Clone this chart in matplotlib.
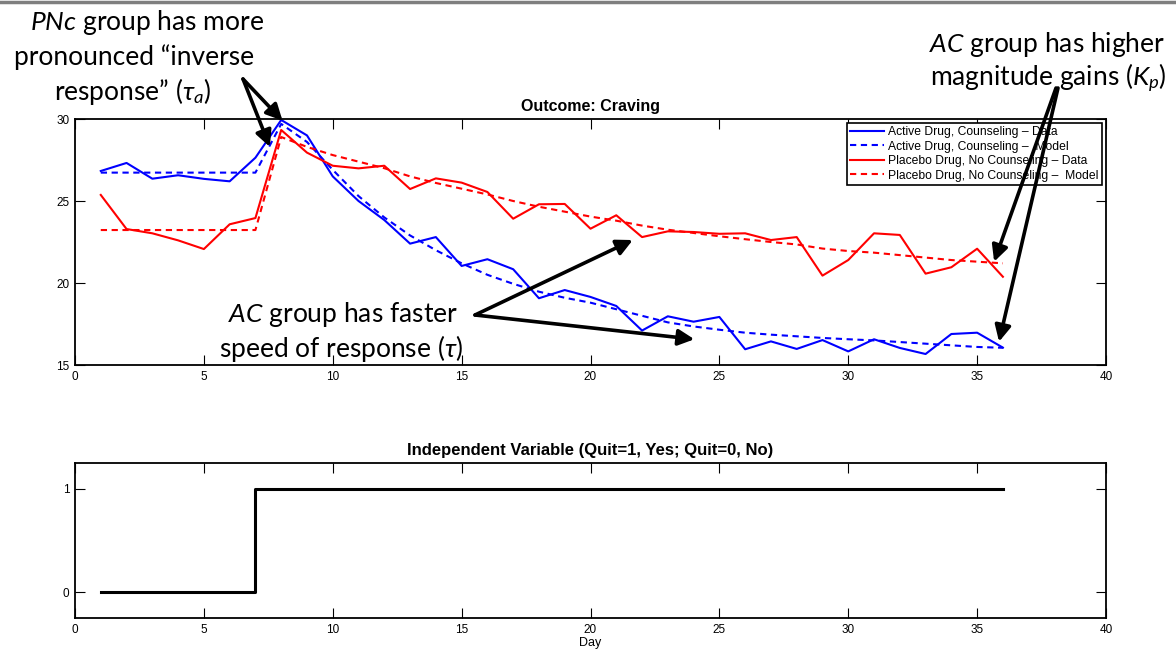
import matplotlib.pyplot as plt
from matplotlib.lines import Line2D

plt.rcParams['mathtext.fontset'] = 'custom'
plt.rcParams['mathtext.rm'] = 'Lato'
plt.rcParams['mathtext.it'] = 'Lato:italic'
plt.rcParams['mathtext.fallback'] = 'stix'

W, H = 1176, 650

days = list(range(1, 37))

ac_data = [26.83, 27.32, 26.36, 26.57, 26.35, 26.2, 27.64, 29.94, 29.0, 26.5,
           25.0, 23.84, 22.4, 22.8, 21.04, 21.45, 20.84, 19.07, 19.57, 19.15,
           18.6, 17.1, 17.97, 17.64, 17.93, 15.96, 16.44, 15.98, 16.52, 15.83,
           16.57, 16.04, 15.67, 16.89, 16.97, 16.06]
ac_model = [26.73, 26.73, 26.73, 26.73, 26.73, 26.73, 26.73, 29.7, 28.6, 26.9,
            25.3, 24.0, 22.9, 22.0, 21.2, 20.5, 19.95, 19.47, 19.1, 18.8,
            18.4, 18.0, 17.6, 17.35, 17.15, 16.97, 16.85, 16.75, 16.65, 16.57,
            16.5, 16.4, 16.3, 16.2, 16.1, 16.05]
pnc_data = [25.37, 23.29, 23.03, 22.6, 22.07, 23.58, 23.96, 29.33, 27.95, 27.15,
            26.99, 27.15, 25.73, 26.38, 26.12, 25.55, 23.92, 24.8, 24.82, 23.31,
            24.13, 22.8, 23.15, 23.11, 23.0, 23.03, 22.62, 22.8, 20.45, 21.4,
            23.03, 22.93, 20.57, 20.96, 22.09, 20.38]
pnc_model = [23.23, 23.23, 23.23, 23.23, 23.23, 23.23, 23.23, 28.9, 28.3, 27.8,
             27.4, 27.0, 26.5, 26.1, 25.75, 25.4, 25.0, 24.65, 24.35, 24.05,
             23.8, 23.5, 23.25, 23.05, 22.85, 22.67, 22.5, 22.35, 22.1, 21.95,
             21.85, 21.7, 21.55, 21.4, 21.3, 21.2]
quit_signal = [0, 0, 0, 0, 0, 0, 1, 1, 1, 1, 1, 1, 1, 1, 1, 1, 1, 1,
               1, 1, 1, 1, 1, 1, 1, 1, 1, 1, 1, 1, 1, 1, 1, 1, 1, 1]

legend_labels = ['Active Drug, Counseling \u2013 Data',
                 'Active Drug, Counseling \u2013  Model',
                 'Placebo Drug, No Counseling \u2013 Data',
                 'Placebo Drug, No Counseling \u2013  Model']

xticks = [0, 5, 10, 15, 20, 25, 30, 35, 40]


def px(x, y):
    # pixel position (from top-left) -> figure fraction
    return (x / W, 1 - y / H)


def style_axes(ax):
    ax.tick_params(direction='in', top=True, right=True, length=7, width=0.8,
                   labelsize=8.5, pad=4)
    for lab in ax.get_xticklabels() + ax.get_yticklabels():
        lab.set_family('Liberation Sans')
    for s in ax.spines.values():
        s.set_linewidth(1.3)


fig = plt.figure(figsize=(W / 100, H / 100), dpi=100)
fig.add_artist(Line2D([0, 1], [1 - 1.5 / H, 1 - 1.5 / H], color='#7f7f7f',
                      lw=2.5, transform=fig.transFigure))

left, right = 75, 1106
ax1 = fig.add_axes([left / W, 1 - 365 / H, (right - left) / W, (365 - 119) / H])
ax2 = fig.add_axes([left / W, 1 - 618 / H, (right - left) / W, (618 - 463) / H])

ax1.plot(days, ac_data, color='blue', lw=1.5, label=legend_labels[0])
ax1.plot(days, ac_model, color='blue', lw=1.5, dashes=(3, 2.2), label=legend_labels[1])
ax1.plot(days, pnc_data, color='red', lw=1.5, label=legend_labels[2])
ax1.plot(days, pnc_model, color='red', lw=1.5, dashes=(3, 2.2), label=legend_labels[3])
ax1.set_xlim(0, 40)
ax1.set_ylim(15, 30)
ax1.set_xticks(xticks)
ax1.set_yticks([15, 20, 25, 30])
ax1.set_title('Outcome: Craving', fontsize=11.5, fontweight='bold',
              family='Liberation Sans', pad=6)
style_axes(ax1)
leg = ax1.legend(loc='upper right', bbox_to_anchor=(1.0, 1.0),
                 prop={'family': 'Liberation Sans', 'size': 8.7},
                 fancybox=False, framealpha=1, edgecolor='black',
                 borderpad=0.3, labelspacing=0.2, handlelength=2.75,
                 handletextpad=0.4, borderaxespad=0.3)
leg.get_frame().set_linewidth(1.2)

ax2.step(days, quit_signal, where='post', color='black', lw=2.2)
ax2.set_xlim(0, 40)
ax2.set_ylim(-0.25, 1.25)
ax2.set_xticks(xticks)
ax2.set_yticks([0, 1])
ax2.set_title('Independent Variable (Quit=1, Yes; Quit=0, No)', fontsize=12,
              fontweight='bold', family='Liberation Sans', pad=6)
ax2.set_xlabel('Day', fontsize=9, family='Liberation Sans', labelpad=1)
style_axes(ax2)

# callout text
tkw = dict(fontsize=19, family='Lato', color='black')
fig.text(*px(147, 30), r'$PNc$ group has more', ha='center', va='baseline', **tkw)
fig.text(*px(134, 65), 'pronounced \u201cinverse', ha='center', va='baseline', **tkw)
fig.text(*px(133, 100), 'response\u201d ($\\tau_a$)', ha='center', va='baseline', **tkw)

fig.text(*px(1165, 52), r'$AC$ group has higher', ha='right', va='baseline', **tkw)
fig.text(*px(1167, 86), r'magnitude gains ($K_p$)', ha='right', va='baseline', **tkw)

fig.text(*px(343, 322), r'$AC$ group has faster', ha='center', va='baseline', **tkw)
fig.text(*px(341, 357), r'speed of response ($\tau$)', ha='center', va='baseline', **tkw)

akw = dict(arrowstyle='-|>', color='black', lw=2.6, mutation_scale=24,
           shrinkA=0, shrinkB=0)
callouts = [
    ((243, 79), (8.05, 29.9)),
    ((243, 79), (7.56, 28.3)),
    ((475, 315), (21.64, 22.62)),
    ((475, 315), (24.03, 16.57)),
    ((1056, 88), (35.66, 21.3)),
    ((1058, 88), (35.85, 16.42)),
]
for start, tip in callouts:
    ax1.annotate('', xy=tip, xycoords='data', xytext=px(*start),
                 textcoords='figure fraction', arrowprops=akw,
                 annotation_clip=False, zorder=10)

fig.savefig('out.png', dpi=100)
